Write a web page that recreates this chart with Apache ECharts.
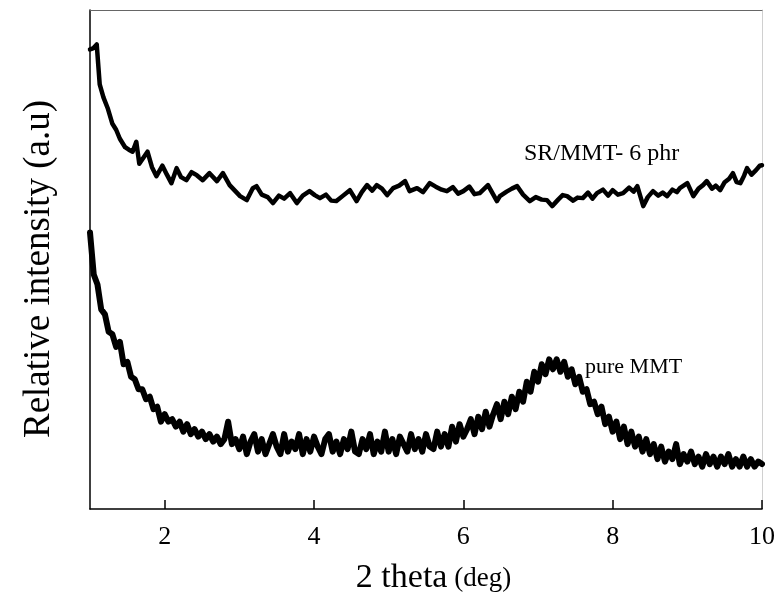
<!DOCTYPE html>
<html>
<head>
<meta charset="utf-8">
<script src="https://cdn.jsdelivr.net/npm/echarts@6/dist/echarts.min.js"></script>
<style>html,body{margin:0;padding:0;background:#fff;}#chart{width:781px;height:600px;}</style>
</head>
<body>
<div id="chart"></div>
<script>
// SR/MMT- 6 phr (upper curve)
var srTheta = [1.00,1.04,1.09,1.13,1.18,1.24,1.30,1.35,1.40,1.47,1.52,1.57,1.62,1.66,1.72,1.77,1.83,1.89,1.97,2.03,2.09,2.16,2.22,2.29,2.36,2.43,2.51,2.60,2.70,2.78,2.87,2.94,3.01,3.10,3.18,3.23,3.30,3.38,3.45,3.53,3.60,3.68,3.77,3.85,3.94,4.01,4.08,4.16,4.23,4.30,4.39,4.48,4.57,4.64,4.71,4.78,4.84,4.91,4.98,5.06,5.14,5.22,5.28,5.38,5.46,5.55,5.63,5.71,5.78,5.86,5.93,6.00,6.08,6.15,6.22,6.33,6.45,6.49,6.58,6.65,6.72,6.80,6.89,6.97,7.05,7.12,7.19,7.27,7.33,7.39,7.47,7.53,7.60,7.67,7.73,7.79,7.87,7.94,8.00,8.07,8.14,8.22,8.28,8.33,8.41,8.47,8.54,8.61,8.67,8.73,8.80,8.86,8.90,9.00,9.08,9.15,9.21,9.26,9.33,9.38,9.44,9.50,9.56,9.61,9.66,9.71,9.76,9.80,9.86,9.92,9.97,10.00];
var srIntensity = [92.1,92.3,93.1,85.1,82.5,80.2,77.2,76.0,74.2,72.5,72.0,71.6,73.6,69.2,70.5,71.6,68.5,66.7,68.8,67.0,65.3,68.3,66.5,65.9,67.5,66.9,65.9,67.3,65.7,67.3,64.9,63.8,62.7,61.9,64.3,64.7,63.0,62.5,61.3,62.8,62.2,63.3,61.3,62.8,63.7,62.9,62.3,63.0,61.8,61.7,62.8,63.9,61.7,63.5,64.9,63.8,64.9,64.2,62.9,64.3,64.8,65.7,63.7,64.3,63.5,65.3,64.6,64.0,63.7,64.5,63.2,63.7,64.6,63.1,63.3,64.9,61.7,62.7,63.6,64.2,64.7,63.0,61.7,62.5,62.0,61.9,60.7,62.0,62.9,62.7,61.8,62.4,62.3,63.4,62.2,63.3,64.0,62.8,63.9,63.0,63.3,64.4,63.6,64.7,60.7,62.5,63.7,62.8,63.4,62.7,64.0,63.5,64.3,65.3,62.7,64.2,64.9,65.7,64.2,64.8,63.9,65.5,66.2,67.3,65.5,65.3,66.8,68.3,67.0,67.9,68.8,68.9];

// pure MMT (lower curve)
var mmtTheta = [1.00,1.05,1.10,1.15,1.20,1.25,1.30,1.35,1.40,1.45,1.50,1.55,1.60,1.65,1.70,1.75,1.80,1.85,1.90,1.95,2.00,2.05,2.10,2.15,2.20,2.25,2.30,2.35,2.40,2.45,2.50,2.55,2.60,2.65,2.70,2.75,2.80,2.85,2.90,2.95,3.00,3.05,3.10,3.15,3.20,3.25,3.30,3.35,3.40,3.45,3.50,3.55,3.60,3.65,3.70,3.75,3.80,3.85,3.90,3.95,4.00,4.05,4.10,4.15,4.20,4.25,4.30,4.35,4.40,4.45,4.50,4.55,4.60,4.65,4.70,4.75,4.80,4.85,4.90,4.95,5.00,5.05,5.10,5.15,5.20,5.25,5.30,5.35,5.40,5.45,5.50,5.55,5.60,5.65,5.70,5.75,5.80,5.85,5.90,5.95,6.00,6.05,6.10,6.15,6.20,6.25,6.30,6.35,6.40,6.45,6.50,6.55,6.60,6.65,6.70,6.75,6.80,6.85,6.90,6.95,7.00,7.05,7.10,7.15,7.20,7.25,7.30,7.35,7.40,7.45,7.50,7.55,7.60,7.65,7.70,7.75,7.80,7.85,7.90,7.95,8.00,8.05,8.10,8.15,8.20,8.25,8.30,8.35,8.40,8.45,8.50,8.55,8.60,8.65,8.70,8.75,8.80,8.85,8.90,8.95,9.00,9.05,9.10,9.15,9.20,9.25,9.30,9.35,9.40,9.45,9.50,9.55,9.60,9.65,9.70,9.75,9.80,9.85,9.90,9.95,10.00];
var mmtIntensity = [
  55.4,47.0,45.0,40.0,39.0,35.5,35.0,32.5,33.5,29.0,29.5,26.5,26.0,24.0,24.0,22.0,22.5,20.0,20.5,17.5,
  19.0,17.5,18.0,16.5,17.5,15.5,17.0,15.0,16.0,14.5,15.5,14.0,15.0,13.5,14.5,13.0,14.0,17.5,13.0,14.0,
  12.0,14.5,11.0,13.5,15.0,11.5,14.0,11.0,13.0,15.0,12.5,11.0,15.0,11.5,13.5,12.0,15.0,11.0,14.0,11.5,
  14.5,12.5,11.0,14.0,15.0,11.5,13.5,11.0,14.0,12.0,15.5,11.5,11.0,14.0,12.0,15.0,11.0,13.5,11.5,15.5,
  11.5,14.0,11.0,14.5,13.0,11.5,15.0,12.0,14.0,11.5,15.0,12.5,12.0,15.5,12.5,15.0,12.5,16.5,13.5,17.0,
  14.5,16.0,18.0,15.0,18.5,16.0,19.5,16.5,19.0,21.0,18.0,21.5,19.0,22.5,20.0,23.5,21.5,25.5,23.5,27.5,
  25.5,29.0,27.0,30.0,28.0,30.0,27.5,29.5,26.5,28.0,25.0,26.5,23.5,24.0,21.0,21.5,19.0,20.5,17.0,18.5,
  15.5,17.5,14.0,16.5,13.0,15.5,12.5,14.5,11.5,14.0,11.0,13.0,10.0,12.5,9.5,11.5,10.0,13.0,9.0,11.0,
  9.5,11.5,9.0,10.5,8.5,11.0,9.0,10.5,8.5,10.5,9.0,11.0,8.5,10.0,8.5,10.5,8.5,10.0,8.5,9.5,
  9.0];

var xTicks = [2, 4, 6, 8, 10];

function pairs(xs, ys) {
  var out = [];
  for (var i = 0; i < xs.length; i++) out.push([xs[i], ys[i]]);
  return out;
}

var chart = echarts.init(document.getElementById('chart'), null, {renderer: 'canvas'});
var serif = 'Liberation Serif';
chart.setOption({
  animation: false,
  backgroundColor: '#fff',
  grid: {left: 90, right: 19, top: 10, bottom: 86},
  xAxis: [{
    type: 'value', min: 1, max: 10,
    axisLine: {show: true, lineStyle: {color: '#000', width: 1.5}},
    axisTick: {show: true, inside: true, length: 9, customValues: xTicks, lineStyle: {color: '#000', width: 1.5}},
    axisLabel: {show: true, customValues: xTicks, margin: 15, color: '#000', fontFamily: serif, fontSize: 26},
    splitLine: {show: false},
    name: '{a|2 theta}{b| (deg)}',
    nameLocation: 'middle', nameGap: 52,
    nameTextStyle: {padding: [0, 0, 0, 15], rich: {
      a: {fontFamily: serif, fontSize: 34, color: '#000'},
      b: {fontFamily: serif, fontSize: 27, color: '#000', padding: [2, 0, 0, 0]}
    }}
  }, {
    type: 'value', min: 1, max: 10, position: 'top',
    axisLine: {show: true, onZero: false, lineStyle: {color: '#666', width: 1}},
    axisTick: {show: false}, axisLabel: {show: false}, splitLine: {show: false}
  }],
  yAxis: [{
    type: 'value', min: 0, max: 100,
    axisLine: {show: true, onZero: false, lineStyle: {color: '#000', width: 1.5}},
    axisTick: {show: false}, axisLabel: {show: false}, splitLine: {show: false},
    name: 'Relative intensity (a.u)', nameLocation: 'middle', nameGap: 32,
    nameTextStyle: {fontFamily: serif, fontSize: 37, color: '#000', padding: [0, 19, 0, 0]}
  }, {
    type: 'value', min: 0, max: 100, position: 'right',
    axisLine: {show: true, onZero: false, lineStyle: {color: '#d0d0d0', width: 1}},
    axisTick: {show: false}, axisLabel: {show: false}, splitLine: {show: false}
  }],
  series: [{
    name: 'SR/MMT- 6 phr', type: 'line', xAxisIndex: 0, yAxisIndex: 0,
    data: pairs(srTheta, srIntensity), showSymbol: false,
    lineStyle: {color: '#000', width: 4.5, join: 'round', cap: 'round'}
  }, {
    name: 'pure MMT', type: 'line', xAxisIndex: 0, yAxisIndex: 0,
    data: pairs(mmtTheta, mmtIntensity), showSymbol: false,
    lineStyle: {color: '#000', width: 6, join: 'round', cap: 'round'}
  }],
  graphic: [{
    type: 'text', left: 524, top: 142,
    style: {text: 'SR/MMT- 6 phr', font: '24px "Liberation Serif"', fill: '#000'}
  }, {
    type: 'text', left: 585, top: 356,
    style: {text: 'pure MMT', font: '22px "Liberation Serif"', fill: '#000'}
  }]
});
</script>
</body>
</html>
